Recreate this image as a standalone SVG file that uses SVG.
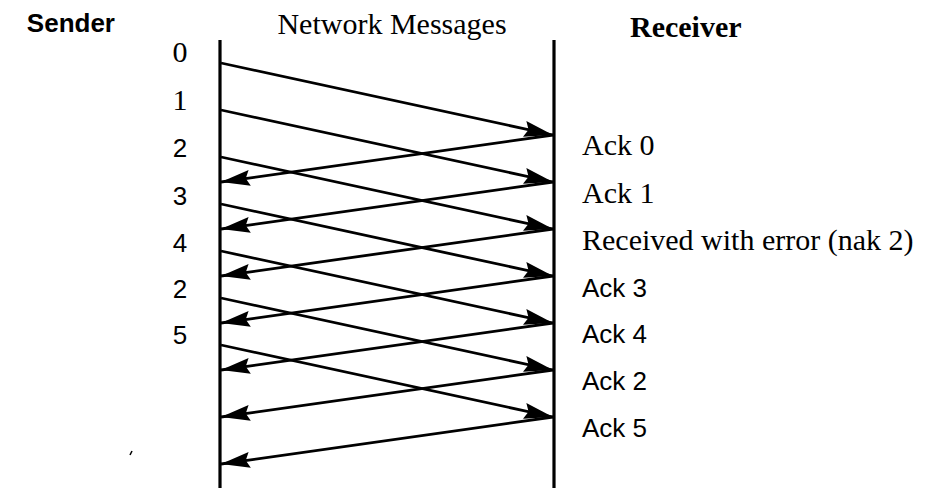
<svg xmlns="http://www.w3.org/2000/svg" width="935" height="488" viewBox="0 0 935 488">
<style>
.serif{font-family:"Liberation Serif","Times New Roman",serif;font-size:30px;fill:#000}
.sans{font-family:"Liberation Sans",Arial,sans-serif;font-size:26px;fill:#000}
.bold{font-weight:bold}
.life{stroke:#000;stroke-width:3.2;fill:none}
.msg{stroke:#000;stroke-width:2.8;fill:none;marker-end:url(#ah)}
</style>
<defs>
<marker id="ah" markerUnits="userSpaceOnUse" markerWidth="32" markerHeight="18" refX="29" refY="8" orient="auto">
<path d="M0,0 L29,8 L0,16 L4,8 z" fill="#000"/>
</marker>
</defs>
<g id="titles">
<text class="sans bold" x="115" y="32" text-anchor="end" font-size="26">Sender</text>
<text class="serif" x="392" y="34" text-anchor="middle" font-size="31">Network Messages</text>
<text class="serif bold" x="630" y="37">Receiver</text>
</g>
<g id="sender">
<line class="life" x1="220" y1="40" x2="220" y2="488"/>
<text class="serif" x="180" y="62" text-anchor="middle">0</text>
<text class="serif" x="180" y="110" text-anchor="middle">1</text>
<text class="sans" x="180" y="157" text-anchor="middle">2</text>
<text class="sans" x="180" y="205" text-anchor="middle">3</text>
<text class="sans" x="180" y="252" text-anchor="middle">4</text>
<text class="sans" x="180" y="298" text-anchor="middle">2</text>
<text class="sans" x="180" y="344" text-anchor="middle">5</text>
</g>
<g id="receiver">
<line class="life" x1="554" y1="40" x2="554" y2="488"/>
<text class="serif" x="582" y="155">Ack 0</text>
<text class="serif" x="582" y="203">Ack 1</text>
<text class="serif" x="582" y="250">Received with error (nak 2)</text>
<text class="sans" x="582" y="297" font-size="27">Ack 3</text>
<text class="sans" x="582" y="343" font-size="27">Ack 4</text>
<text class="sans" x="582" y="390" font-size="27">Ack 2</text>
<text class="sans" x="582" y="437" font-size="27">Ack 5</text>
</g>
<g id="connectors">
<line class="msg" x1="221" y1="63" x2="553" y2="135"/>
<line class="msg" x1="221" y1="110" x2="553" y2="182"/>
<line class="msg" x1="221" y1="157" x2="553" y2="229"/>
<line class="msg" x1="221" y1="204" x2="553" y2="276"/>
<line class="msg" x1="221" y1="251" x2="553" y2="323"/>
<line class="msg" x1="221" y1="298" x2="553" y2="370"/>
<line class="msg" x1="221" y1="345" x2="553" y2="417"/>
<line class="msg" x1="553" y1="135" x2="221" y2="182"/>
<line class="msg" x1="553" y1="182" x2="221" y2="229"/>
<line class="msg" x1="553" y1="229" x2="221" y2="276"/>
<line class="msg" x1="553" y1="276" x2="221" y2="323"/>
<line class="msg" x1="553" y1="323" x2="221" y2="370"/>
<line class="msg" x1="553" y1="370" x2="221" y2="417"/>
<line class="msg" x1="553" y1="417" x2="221" y2="464"/>
</g>
<path d="M130,455 L132,451" stroke="#000" stroke-width="1.5"/>
</svg>
